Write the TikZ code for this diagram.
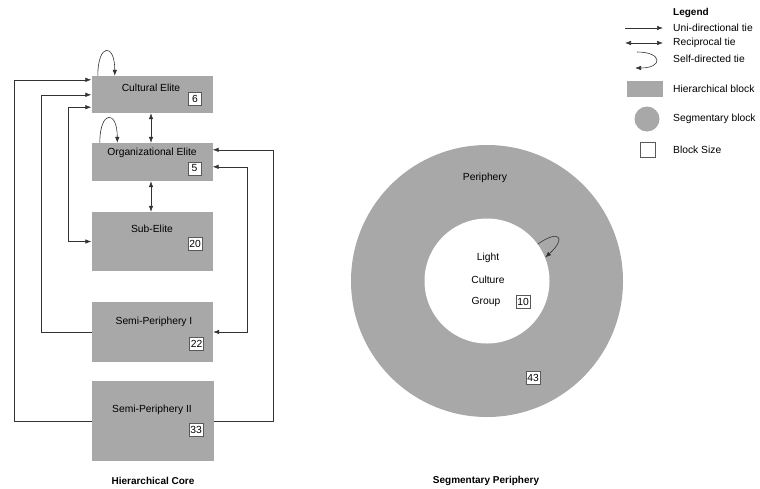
\documentclass[tikz,border=0pt]{standalone}
\usepackage{fontspec}
\setmainfont{Liberation Sans}
\usepackage{tikz}
\usetikzlibrary{arrows.meta}
\definecolor{blockgray}{RGB}{168,168,168}
\tikzset{
    hblock/.style={rectangle, fill=blockgray, minimum width=121pt, inner sep=0pt}, % hierarchical block
    sblock/.style={circle, fill=blockgray, inner sep=0pt}, % segmentary block
    sizebox/.style={draw=black!65, fill=white, line width=0.5pt, inner sep=1.2pt, minimum size=13pt},
    lbl/.style={inner sep=0pt},
    tie/.style={draw=black!80, line width=0.6pt, -{Latex[length=6pt,width=4.5pt]}},
    rtie/.style={tie, {Latex[length=6pt,width=4.5pt]}-{Latex[length=6pt,width=4.5pt]}}
}
\begin{document}
\begin{tikzpicture}[x=1pt, y=-1pt, font=\fontsize{10.3}{12}\selectfont]
    \useasboundingbox (0,0) rectangle (760,488);

    % hierarchical core
    \node[hblock, minimum height=37pt] (ce) at (152,94.5) {};
    \node[hblock, minimum height=38pt] (oe) at (152,162) {};
    \node[hblock, minimum height=59pt] (se) at (152,241.5) {};
    \node[hblock, minimum height=60pt] (sp1) at (152.5,332) {};
    \node[hblock, minimum height=80pt, minimum width=122pt] (sp2) at (153,421) {};

    \node[lbl] (ce-lbl) at (151,88) {Cultural Elite};
    \node[lbl] (oe-lbl) at (152,153) {Organizational Elite};
    \node[lbl] (se-lbl) at (152,229) {Sub-Elite};
    \node[lbl] (sp1-lbl) at (154,322) {Semi-Periphery I};
    \node[lbl] (sp2-lbl) at (152,410) {Semi-Periphery II};

    \node[sizebox] (ce-n) at (195,99) {6};
    \node[sizebox] (oe-n) at (194.5,168.5) {5};
    \node[sizebox] (se-n) at (195,243.5) {20};
    \node[sizebox] (sp1-n) at (196.5,343.5) {22};
    \node[sizebox] (sp2-n) at (196,430) {33};

    \draw[tie] ([xshift=6.5pt]ce.north west) .. controls +(0,-33) and +(0,-33) .. ([xshift=23.5pt]ce.north west);
    \draw[tie] ([xshift=8.5pt]oe.north west) .. controls +(0,-33) and +(0,-33) .. ([xshift=26pt]oe.north west);
    \draw[rtie] ([xshift=-1pt]ce.south) -- ([xshift=-1pt]oe.north);
    \draw[rtie] ([xshift=-1pt]oe.south) -- ([xshift=-1pt]se.north);

    \draw[tie] (sp2.west) -- ++(-78,0) |- ([yshift=-4pt]ce.north west);
    \draw[tie] (sp1.west) -- ++(-50.5,0) |- ([yshift=-19pt]ce.north west);
    \draw[rtie] ([yshift=6pt]ce.south west) -- ++(-23,0) |- (se.west);
    \draw[tie] (sp2.east) -- ++(59,0) |- ([yshift=-7pt]oe.north east);
    \draw[rtie] ([yshift=-24pt]oe.north east) -- ++(35,0) |- (sp1.east);

    \node[font=\fontsize{10}{12}\selectfont\bfseries] (core) at (153,481) {Hierarchical Core};

    % segmentary periphery
    \node[sblock, minimum size=272pt] (per) at (487,281) {};
    \node[circle, fill=white, inner sep=0pt, minimum size=125pt] (lcg) at (487,281) {};
    \node[lbl] (per-lbl) at (485,178) {Periphery};
    \node[lbl] (lcg-l1) at (488,258) {Light};
    \node[lbl] (lcg-l2) at (488,280) {Culture};
    \node[lbl] (lcg-l3) at (486,302) {Group};
    \node[sizebox] (lcg-n) at (523,302) {10};
    \node[sizebox] (per-n) at (533,378) {43};
    \draw[tie] (lcg.36) .. controls +(21,-15) and +(22,-20) .. (lcg.22);

    \node[font=\fontsize{10}{12}\selectfont\bfseries] (seg) at (486,481) {Segmentary Periphery};

    % legend
    \node[lbl, anchor=west, font=\fontsize{10}{12}\selectfont\bfseries] (leg) at (673,13) {Legend};
    \node[lbl, anchor=west] (leg-uni) at (673,28) {Uni-directional tie};
    \node[lbl, anchor=west] (leg-rec) at (673,43) {Reciprocal tie};
    \node[lbl, anchor=west] (leg-self) at (673,59) {Self-directed tie};
    \node[lbl, anchor=west] (leg-hb) at (673,89) {Hierarchical block};
    \node[lbl, anchor=west] (leg-sb) at (673,119) {Segmentary block};
    \node[lbl, anchor=west] (leg-bs) at (673,150) {Block Size};

    \draw[tie] ([xshift=-48pt]leg-uni.west) -- ([xshift=-10pt]leg-uni.west);
    \draw[rtie] ([xshift=-48pt]leg-rec.west) -- ([xshift=-10pt]leg-rec.west);
    \draw[tie] ([xshift=-36pt,yshift=7pt]leg-self.west) .. controls +(26,0) and +(28,0) .. ([xshift=-38pt,yshift=-9pt]leg-self.west);
    \node[hblock, minimum width=36pt, minimum height=16pt] (leg-hbox) at (645,89) {};
    \node[sblock, minimum size=25pt] (leg-sbox) at (647,119) {};
    \node[sizebox, minimum size=15pt] (leg-bbox) at (647.5,149.5) {};
\end{tikzpicture}
\end{document}
